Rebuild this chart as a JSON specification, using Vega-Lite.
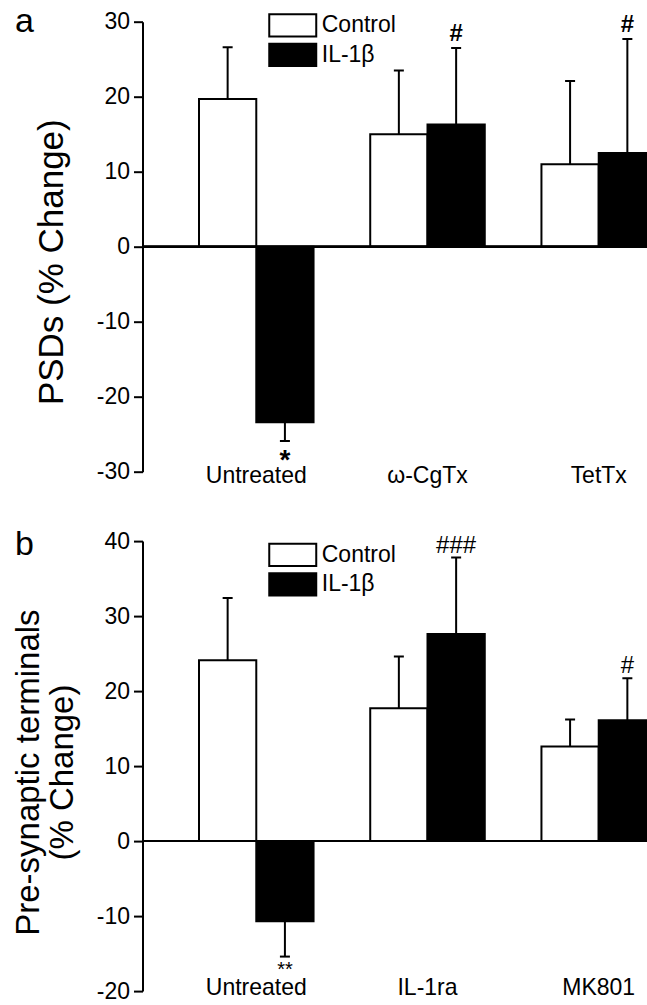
{
  "$schema": "https://vega.github.io/schema/vega-lite/v6.json",
  "padding": {"left": 11.5, "top": 4.7, "right": 0, "bottom": 0},
  "background": "white",
  "config": {
    "font": "Liberation Sans",
    "view": {"stroke": null},
    "axis": {"labelColor": "black", "titleColor": "black", "domainColor": "black", "tickColor": "black", "grid": false},
    "legend": {"padding": 0, "offset": 0},
    "title": {"color": "black"}
  },
  "datasets": {
    "a": [
      {"group": "Untreated", "treatment": "Control", "mean": 19.7, "err": 26.6, "sig": ""},
      {"group": "Untreated", "treatment": "IL-1β", "mean": -23.4, "err": -25.9, "sig": "*"},
      {"group": "ω-CgTx", "treatment": "Control", "mean": 15.0, "err": 23.5, "sig": ""},
      {"group": "ω-CgTx", "treatment": "IL-1β", "mean": 16.3, "err": 26.5, "sig": "#"},
      {"group": "TetTx", "treatment": "Control", "mean": 11.0, "err": 22.1, "sig": ""},
      {"group": "TetTx", "treatment": "IL-1β", "mean": 12.5, "err": 27.7, "sig": "#"}
    ],
    "b": [
      {"group": "Untreated", "treatment": "Control", "mean": 24.1, "err": 32.4, "sig": ""},
      {"group": "Untreated", "treatment": "IL-1β", "mean": -10.7, "err": -15.4, "sig": "**"},
      {"group": "IL-1ra", "treatment": "Control", "mean": 17.7, "err": 24.6, "sig": ""},
      {"group": "IL-1ra", "treatment": "IL-1β", "mean": 27.6, "err": 37.8, "sig": "###"},
      {"group": "MK801", "treatment": "Control", "mean": 12.6, "err": 16.2, "sig": ""},
      {"group": "MK801", "treatment": "IL-1β", "mean": 16.1, "err": 21.7, "sig": "#"}
    ]
  },
  "bounds": "flush",
  "spacing": 69.4,
  "resolve": {"scale": {"color": "independent", "x": "independent", "y": "independent", "xOffset": "independent"}, "legend": {"color": "independent"}},
  "vconcat": [
    {
      "width": 505,
      "height": 450,
      "data": {"name": "a"},
      "title": {"text": "a", "anchor": "start", "frame": "group", "orient": "top", "fontSize": 34, "fontWeight": "normal", "baseline": "alphabetic", "offset": 0, "dx": -127.5, "dy": 55.4},
      "layer": [
        {
          "mark": {"type": "bar", "stroke": "black", "strokeWidth": 2, "clip": true},
          "encoding": {
            "x": {"field": "group", "type": "nominal", "sort": ["Untreated", "ω-CgTx", "TetTx"], "scale": {"range": [0, 570], "paddingInner": 0.331, "paddingOuter": 0.33},
                  "axis": {"title": null, "orient": "bottom", "domain": false, "ticks": false, "labelAngle": 0, "labelFontSize": 23, "labelPadding": 11, "labelBaseline": "alphabetic"}},
            "xOffset": {"field": "treatment", "type": "nominal", "sort": ["Control", "IL-1β"], "scale": {"paddingInner": 0, "paddingOuter": 0}},
            "y": {"field": "mean", "type": "quantitative", "scale": {"domain": [-30, 30], "nice": false},
                  "axis": {"values": [-30, -20, -10, 0, 10, 20, 30], "labelExpr": "'' + datum.value", "domainWidth": 2, "tickWidth": 2, "tickSize": 9, "labelFontSize": 23, "labelPadding": 4,
                           "title": "PSDs (% Change)", "titleFontSize": 35, "titleFontWeight": "normal", "titleX": -80.5, "titleY": 240, "titleBaseline": "alphabetic", "titleAlign": "center", "titleAngle": -90}},
            "color": {"field": "treatment", "type": "nominal", "sort": ["Control", "IL-1β"], "scale": {"domain": ["Control", "IL-1β"], "range": ["white", "black"]},
                      "legend": {"title": null, "orient": "none", "legendX": 137.25, "legendY": -9.3, "symbolType": "M-2,-0.94H2V0.94H-2Z", "symbolSize": 552, "symbolStrokeColor": "black", "symbolStrokeWidth": 2, "symbolOpacity": 1, "labelFontSize": 23, "labelOffset": 16, "rowPadding": -2.5, "labelColor": "black"}}
          }
        },
        {
          "mark": {"type": "rule", "strokeWidth": 2, "color": "black", "clip": true},
          "encoding": {
            "x": {"field": "group", "type": "nominal", "sort": ["Untreated", "ω-CgTx", "TetTx"]},
            "xOffset": {"field": "treatment", "type": "nominal", "sort": ["Control", "IL-1β"]},
            "y": {"field": "mean", "type": "quantitative"},
            "y2": {"field": "err"}
          }
        },
        {
          "mark": {"type": "tick", "thickness": 2, "size": 10, "color": "black", "opacity": 1, "clip": true},
          "encoding": {
            "x": {"field": "group", "type": "nominal", "sort": ["Untreated", "ω-CgTx", "TetTx"]},
            "xOffset": {"field": "treatment", "type": "nominal", "sort": ["Control", "IL-1β"]},
            "y": {"field": "err", "type": "quantitative"}
          }
        },
        {
          "mark": {"type": "rule", "strokeWidth": 2, "color": "black"},
          "encoding": {"y": {"datum": 0, "type": "quantitative"}}
        },
        {
          "transform": [{"filter": "datum.mean > 0 && datum.sig != ''"}],
          "mark": {"type": "text", "fontSize": 24, "fontWeight": "bold", "baseline": "alphabetic", "dy": -7, "color": "black"},
          "encoding": {
            "x": {"field": "group", "type": "nominal", "sort": ["Untreated", "ω-CgTx", "TetTx"]},
            "xOffset": {"field": "treatment", "type": "nominal", "sort": ["Control", "IL-1β"]},
            "y": {"field": "err", "type": "quantitative"},
            "text": {"field": "sig"}
          }
        },
        {
          "transform": [{"filter": "datum.mean < 0 && datum.sig != ''"}],
          "mark": {"type": "text", "fontSize": 28, "fontWeight": "bold", "baseline": "top", "dy": 6, "color": "black"},
          "encoding": {
            "x": {"field": "group", "type": "nominal", "sort": ["Untreated", "ω-CgTx", "TetTx"]},
            "xOffset": {"field": "treatment", "type": "nominal", "sort": ["Control", "IL-1β"]},
            "y": {"field": "err", "type": "quantitative"},
            "text": {"field": "sig"}
          }
        }
      ]
    },
    {
      "width": 505,
      "height": 450,
      "data": {"name": "b"},
      "title": {"text": "b", "anchor": "start", "frame": "group", "orient": "top", "fontSize": 34, "fontWeight": "normal", "baseline": "alphabetic", "offset": 0, "dx": -127.5, "dy": 59.3},
      "layer": [
        {
          "mark": {"type": "bar", "stroke": "black", "strokeWidth": 2, "clip": true},
          "encoding": {
            "x": {"field": "group", "type": "nominal", "sort": ["Untreated", "IL-1ra", "MK801"], "scale": {"range": [0, 570], "paddingInner": 0.331, "paddingOuter": 0.33},
                  "axis": {"title": null, "orient": "bottom", "domain": false, "ticks": false, "labelAngle": 0, "labelFontSize": 23, "labelPadding": 3.5, "labelBaseline": "alphabetic"}},
            "xOffset": {"field": "treatment", "type": "nominal", "sort": ["Control", "IL-1β"], "scale": {"paddingInner": 0, "paddingOuter": 0}},
            "y": {"field": "mean", "type": "quantitative", "scale": {"domain": [-20, 40], "nice": false},
                  "axis": {"values": [-20, -10, 0, 10, 20, 30, 40], "labelExpr": "'' + datum.value", "domainWidth": 2, "tickWidth": 2, "tickSize": 9, "labelFontSize": 23, "labelPadding": 4,
                           "title": ["Pre-synaptic terminals", "(% Change)"], "titleFontSize": 33, "titleLineHeight": 35, "titleFontWeight": "normal", "titleX": -104.5, "titleY": 231, "titleBaseline": "alphabetic", "titleAlign": "center", "titleAngle": -90}},
            "color": {"field": "treatment", "type": "nominal", "sort": ["Control", "IL-1β"], "scale": {"domain": ["Control", "IL-1β"], "range": ["white", "black"]},
                      "legend": {"title": null, "orient": "none", "legendX": 137.25, "legendY": 0.8, "symbolType": "M-2,-0.94H2V0.94H-2Z", "symbolSize": 552, "symbolStrokeColor": "black", "symbolStrokeWidth": 2, "symbolOpacity": 1, "labelFontSize": 23, "labelOffset": 16, "rowPadding": -2.5, "labelColor": "black"}}
          }
        },
        {
          "mark": {"type": "rule", "strokeWidth": 2, "color": "black", "clip": true},
          "encoding": {
            "x": {"field": "group", "type": "nominal", "sort": ["Untreated", "IL-1ra", "MK801"]},
            "xOffset": {"field": "treatment", "type": "nominal", "sort": ["Control", "IL-1β"]},
            "y": {"field": "mean", "type": "quantitative"},
            "y2": {"field": "err"}
          }
        },
        {
          "mark": {"type": "tick", "thickness": 2, "size": 10, "color": "black", "opacity": 1, "clip": true},
          "encoding": {
            "x": {"field": "group", "type": "nominal", "sort": ["Untreated", "IL-1ra", "MK801"]},
            "xOffset": {"field": "treatment", "type": "nominal", "sort": ["Control", "IL-1β"]},
            "y": {"field": "err", "type": "quantitative"}
          }
        },
        {
          "mark": {"type": "rule", "strokeWidth": 2, "color": "black"},
          "encoding": {"y": {"datum": 0, "type": "quantitative"}}
        },
        {
          "transform": [{"filter": "datum.mean > 0 && datum.sig != ''"}],
          "mark": {"type": "text", "fontSize": 24, "baseline": "alphabetic", "dy": -5, "color": "black"},
          "encoding": {
            "x": {"field": "group", "type": "nominal", "sort": ["Untreated", "IL-1ra", "MK801"]},
            "xOffset": {"field": "treatment", "type": "nominal", "sort": ["Control", "IL-1β"]},
            "y": {"field": "err", "type": "quantitative"},
            "text": {"field": "sig"}
          }
        },
        {
          "transform": [{"filter": "datum.mean < 0 && datum.sig != ''"}],
          "mark": {"type": "text", "fontSize": 20, "baseline": "top", "dy": 3, "color": "black"},
          "encoding": {
            "x": {"field": "group", "type": "nominal", "sort": ["Untreated", "IL-1ra", "MK801"]},
            "xOffset": {"field": "treatment", "type": "nominal", "sort": ["Control", "IL-1β"]},
            "y": {"field": "err", "type": "quantitative"},
            "text": {"field": "sig"}
          }
        }
      ]
    }
  ]
}
